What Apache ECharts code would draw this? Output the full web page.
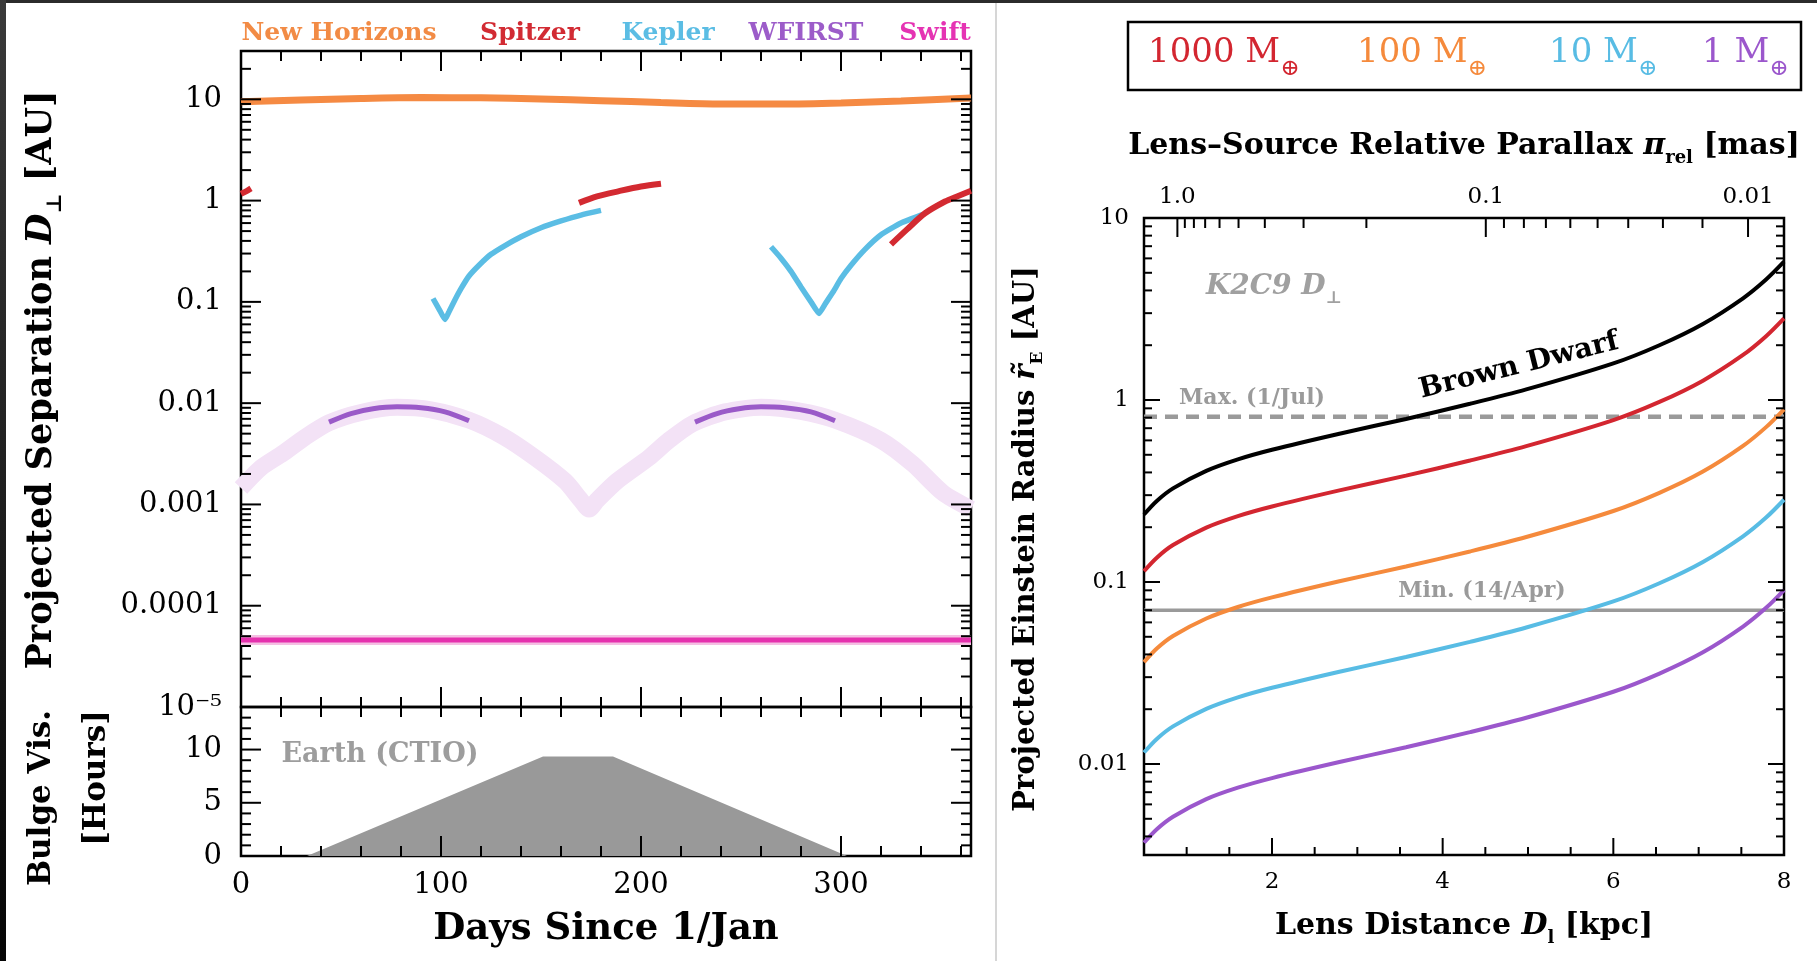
<!DOCTYPE html>
<html>
<head>
<meta charset="utf-8">
<title>K2C9 projected separation and Einstein radius</title>
<script src="https://cdn.jsdelivr.net/npm/echarts@6/dist/echarts.min.js"></script>
<style>
  html, body { margin: 0; padding: 0; background: #fff; }
  #chart { width: 1817px; height: 961px; }
</style>
</head>
<body>
<div id="chart"></div>
<script>
// ---- left panel: projected separation [AU] vs. day of year ----
var newHorizons = [[0,9.45],[30,9.85],[60,10.2],[90,10.4],[120,10.35],[150,10.1],[180,9.7],[210,9.3],[240,9.0],[270,8.98],[300,9.2],[330,9.65],[365,10.3]];
var spitzerA = [[0,1.17],[3,1.25],[5,1.32]];
var spitzerB = [[169,0.95],[178,1.1],[189,1.24],[200,1.38],[210,1.47]];
var spitzerC = [[325,0.37],[333,0.52],[342,0.75],[352,0.98],[358,1.1],[365,1.25]];
var keplerA = [[96,0.108],[99,0.085],[102,0.067],[104,0.08],[107,0.105],[110,0.135],[114,0.18],[119,0.23],[125,0.295],[132,0.36],[140,0.44],[150,0.54],[160,0.63],[170,0.72],[180,0.80]];
var keplerB = [[265,0.35],[270,0.27],[275,0.2],[280,0.14],[285,0.1],[289,0.077],[292,0.095],[296,0.125],[300,0.17],[305,0.23],[312,0.33],[320,0.46],[330,0.6],[341,0.73]];
var wfirstBand = [[0,0.00145],[10,0.0023],[21,0.0032],[32,0.0046],[44,0.0064],[60,0.0081],[78,0.0091],[95,0.0086],[114,0.0068],[131,0.0047],[147,0.0029],[162,0.0017],[170,0.0011],[174,0.0009],[178,0.0011],[188,0.0017],[204,0.0029],[214,0.0043],[226,0.0063],[242,0.0082],[260,0.0091],[280,0.0083],[297,0.0068],[320,0.0043],[336,0.0025],[351,0.0013],[365,0.0009]];
var wfirstA = [[44,0.0065],[55,0.0079],[66,0.0088],[78,0.0092],[90,0.009],[102,0.0082],[114,0.0067]];
var wfirstB = [[227,0.0065],[238,0.0079],[249,0.0088],[260,0.0092],[272,0.009],[285,0.0082],[297,0.0067]];
var swift = [[0,4.6e-5],[365,4.6e-5]];
// bulge visibility from Earth (CTIO), hours per night
var earthVis = [[0,0],[33,0],[151,9.35],[186,9.35],[303,0],[365,0]];

// ---- right panel: projected Einstein radius [AU] vs. lens distance [kpc] ----
var lensDist = [0.5,0.65,0.84,1.23,1.6,2.0,2.79,3.57,4.32,4.98,6.0,6.54,7.05,7.52,7.79,8.0];
var rBrownDwarf = [0.235,0.279,0.327,0.408,0.472,0.533,0.653,0.787,0.953,1.143,1.589,2.0,2.618,3.622,4.592,5.754];
var r1000 = [0.1147,0.136,0.1596,0.1991,0.2303,0.2601,0.3187,0.3841,0.4651,0.5578,0.7754,0.976,1.2776,1.7675,2.2409,2.808];
var r100 = [0.0363,0.0431,0.0505,0.063,0.0729,0.0823,0.1009,0.1216,0.1472,0.1766,0.2455,0.309,0.4045,0.5596,0.7095,0.889];
var r10 = [0.01156,0.01373,0.01609,0.02007,0.02322,0.02622,0.03213,0.03872,0.04689,0.05624,0.07818,0.0984,0.1288,0.1782,0.2259,0.2831];
var r1 = [0.00369,0.00438,0.00513,0.00641,0.00741,0.00837,0.01025,0.01236,0.01496,0.01795,0.02495,0.0314,0.0411,0.0569,0.0721,0.0903];
var maxPerp = 0.81;   // Max. (1/Jul)
var minPerp = 0.07;   // Min. (14/Apr)

// ---- ticks and tick labels ----
var dayMajor = [100, 200, 300];
var dayMinor = [20,40,60,80,120,140,160,180,220,240,260,280,320,340,360];
var dayLabels = [0, 100, 200, 300];
var sepMajor = [1e-5, 1e-4, 1e-3, 0.01, 0.1, 1, 10];
var sepLabels = ['10⁻⁵', '0.0001', '0.001', '0.01', '0.1', '1', '10'];
var hourMajor = [0, 5, 10];
var hourMinor = [1,2,3,4,6,7,8,9,11,12,13,14];
var kpcMajor = [2, 4, 6, 8];
var kpcMinor = [1,1.5,2.5,3,3.5,4.5,5,5.5,6.5,7,7.5];
var radiusMajor = [0.01, 0.1, 1, 10];
var radiusLabels = ['0.01', '0.1', '1', '10'];
var parallaxMajor = [1.0, 0.1, 0.01];
var parallaxLabels = ['1.0', '0.1', '0.01'];
var parallaxMinor = [0.9,0.8,0.7,0.6,0.5,0.4,0.3,0.2,0.09,0.08,0.07,0.06,0.05,0.04,0.03,0.02];
var sourceDist = 8.2; // kpc, for the top (relative parallax) axis

var SEP_MIN = 1e-5, SEP_MAX = 30, R_MIN = 0.0031623, R_MAX = 10;
var SERIF = '"DejaVu Serif", "Liberation Serif", serif';

function logMinors(lo, hi) {
  var out = [];
  for (var e = -6; e <= 2; e++) {
    for (var k = 2; k <= 9; k++) {
      var v = k * Math.pow(10, e);
      if (v > lo && v < hi) out.push(v);
    }
  }
  return out;
}
function parallaxToDist(p) { return 1 / (p + 1 / sourceDist); }

function addY(arr, vals, x0, x1, len) {
  vals.forEach(function (v) {
    arr.push({x: x0, y: v, dx: 1, dy: 0, len: len});
    arr.push({x: x1, y: v, dx: -1, dy: 0, len: len});
  });
}
function addX(arr, vals, y0, y1, lenBottom, lenTop) {
  vals.forEach(function (v) {
    if (lenBottom) arr.push({x: v, y: y0, dx: 0, dy: -1, len: lenBottom});
    if (lenTop) arr.push({x: v, y: y1, dx: 0, dy: 1, len: lenTop});
  });
}
function addLabel(arr, x, y, text, tx, ty, align, size) {
  arr.push({x: x, y: y, text: text, tx: tx, ty: ty, align: align, font: size + 'px ' + SERIF});
}

// grid 0: separation
var g0 = [];
addY(g0, sepMajor, 0, 365, 20);
addY(g0, logMinors(SEP_MIN, SEP_MAX), 0, 365, 10);
addX(g0, dayMajor, SEP_MIN, SEP_MAX, 20, 20);
addX(g0, dayMinor, SEP_MIN, SEP_MAX, 10, 10);
sepMajor.forEach(function (v, i) { addLabel(g0, 0, v, sepLabels[i], -19, 0, 'right', 29); });

// grid 1: bulge visibility
var g1 = [];
addY(g1, hourMajor, 0, 365, 20);
addY(g1, hourMinor, 0, 365, 10);
addX(g1, dayMajor, 0, 14, 20, 10);
addX(g1, dayMinor, 0, 14, 10, 10);
hourMajor.forEach(function (v) { addLabel(g1, 0, v, String(v), -19, 0, 'right', 29); });
dayLabels.forEach(function (v) { addLabel(g1, v, 0, String(v), 0, 29, 'center', 29); });

// grid 2: Einstein radius
var g2 = [];
addY(g2, radiusMajor, 0.5, 8, 16);
addY(g2, logMinors(R_MIN, R_MAX), 0.5, 8, 8);
addX(g2, kpcMajor, R_MIN, R_MAX, 17, 0);
addX(g2, kpcMinor, R_MIN, R_MAX, 8, 0);
parallaxMajor.forEach(function (p, i) {
  g2.push({x: parallaxToDist(p), y: R_MAX, dx: 0, dy: 1, len: 19});
  addLabel(g2, parallaxToDist(p), R_MAX, parallaxLabels[i], 0, -21, 'center', 23);
});
parallaxMinor.forEach(function (p) { g2.push({x: parallaxToDist(p), y: R_MAX, dx: 0, dy: 1, len: 10}); });
radiusMajor.forEach(function (v, i) { addLabel(g2, 0.5, v, radiusLabels[i], -15, 0, 'right', 23); });
kpcMajor.forEach(function (v) { addLabel(g2, v, R_MIN, String(v), 0, 27, 'center', 23); });

function frameSeries(idx, marks) {
  return {
    type: 'custom', xAxisIndex: idx, yAxisIndex: idx, clip: false, silent: true, z: 5,
    data: marks.map(function (m) { return [m.x, m.y]; }),
    renderItem: function (params, api) {
      var m = marks[params.dataIndex];
      var p = api.coord([api.value(0), api.value(1)]);
      if (m.text != null) {
        return {type: 'text', x: p[0] + m.tx, y: p[1] + m.ty,
          style: {text: m.text, font: m.font, fill: '#000', align: m.align, verticalAlign: 'middle'}};
      }
      return {type: 'line', shape: {x1: p[0], y1: p[1], x2: p[0] + m.dx * m.len, y2: p[1] + m.dy * m.len},
        style: {stroke: '#000', lineWidth: 2}};
    }
  };
}

function curve(idx, data, color, width, extra) {
  var s = {type: 'line', xAxisIndex: idx, yAxisIndex: idx, data: data, symbol: 'none', smooth: 0.3,
    lineStyle: {color: color, width: width}, silent: true};
  if (extra) for (var k in extra) s[k] = extra[k];
  return s;
}
function zipDist(vals) { return lensDist.map(function (d, i) { return [d, vals[i]]; }); }

function sub(text, x, y, color, size, rot, italic) {
  return {type: 'text', x: x, y: y, rotation: rot || 0, silent: true,
    style: {text: text, fill: color, font: (italic ? 'italic ' : '') + 'bold ' + size + 'px ' + SERIF,
      align: 'center', verticalAlign: 'middle'}};
}
function richTitle(parts, x, y, size, rot, color) {
  // parts: [normal, italicSymbol, subscript, trailing]
  var c = color || '#000';
  return {type: 'text', x: x, y: y, rotation: rot || 0, silent: true,
    style: {
      text: '{t|' + parts[0] + '}{i|' + parts[1] + '}{s|' + parts[2] + '}{t|' + parts[3] + '}',
      align: 'center', verticalAlign: 'middle',
      rich: {
        t: {fontSize: size, fontFamily: SERIF, fontWeight: 'bold', fill: c, lineHeight: size * 1.4},
        i: {fontSize: size, fontFamily: SERIF, fontWeight: 'bold', fontStyle: 'italic', fill: c, lineHeight: size * 1.4},
        s: {fontSize: Math.round(size * 0.6), fontFamily: SERIF, fontWeight: 'bold', fill: c, lineHeight: size * 0.45, verticalAlign: 'bottom'}
      }
    }};
}
function massLabel(txt, x, color) {
  return {type: 'text', x: x, y: 53, silent: true,
    style: {text: '{n|' + txt + ' M}{s|⊕}', align: 'left', verticalAlign: 'middle',
      rich: {
        n: {fontSize: 34, fontFamily: SERIF, fill: color, lineHeight: 56},
        s: {fontSize: 23, fontFamily: SERIF, fill: color, lineHeight: 22, verticalAlign: 'bottom'}
      }}};
}

var option = {
  animation: false,
  backgroundColor: '#ffffff',
  grid: [
    {left: 241, top: 51, width: 730, height: 656, show: true, borderColor: '#000', borderWidth: 2.5, backgroundColor: 'transparent'},
    {left: 241, top: 707, width: 730, height: 149, show: true, borderColor: '#000', borderWidth: 2.5, backgroundColor: 'transparent'},
    {left: 1144, top: 218, width: 640, height: 637, show: true, borderColor: '#000', borderWidth: 2.5, backgroundColor: 'transparent'}
  ],
  xAxis: [
    {gridIndex: 0, type: 'value', min: 0, max: 365, show: false},
    {gridIndex: 1, type: 'value', min: 0, max: 365, show: false},
    {gridIndex: 2, type: 'value', min: 0.5, max: 8, show: false}
  ],
  yAxis: [
    {gridIndex: 0, type: 'log', min: SEP_MIN, max: SEP_MAX, show: false},
    {gridIndex: 1, type: 'value', min: 0, max: 14, show: false},
    {gridIndex: 2, type: 'log', min: R_MIN, max: R_MAX, show: false}
  ],
  series: [
    curve(0, wfirstBand, '#F3E2F6', 17, {smooth: 0.25}),
    curve(0, swift, '#F5BFE3', 10),
    curve(0, swift, '#E531AE', 5),
    curve(0, newHorizons, '#F58A43', 7),
    curve(0, keplerA, '#5BBDE4', 5.5, {smooth: 0.15}),
    curve(0, keplerB, '#5BBDE4', 5.5, {smooth: 0.15}),
    curve(0, spitzerA, '#D32A31', 6),
    curve(0, spitzerB, '#D32A31', 6),
    curve(0, spitzerC, '#D32A31', 6),
    curve(0, wfirstA, '#9A5AC8', 5),
    curve(0, wfirstB, '#9A5AC8', 5),
    curve(1, earthVis, '#9a9a9a', 0, {smooth: false, areaStyle: {color: '#999999', opacity: 1}}),
    curve(2, [[0.5, minPerp], [8, minPerp]], '#9a9a9a', 3.5, {smooth: false}),
    curve(2, [[0.5, maxPerp], [8, maxPerp]], '#9a9a9a', 4.5, {smooth: false,
      lineStyle: {color: '#9a9a9a', width: 4.5, type: [13, 8]}}),
    curve(2, zipDist(r1), '#9B57CC', 4),
    curve(2, zipDist(r10), '#58BCE4', 4),
    curve(2, zipDist(r100), '#F58A3C', 4),
    curve(2, zipDist(r1000), '#D32630', 4),
    curve(2, zipDist(rBrownDwarf), '#000000', 4),
    frameSeries(0, g0),
    frameSeries(1, g1),
    frameSeries(2, g2)
  ],
  graphic: {elements: [
    {type: 'rect', shape: {x: 0, y: 0, width: 1817, height: 3}, style: {fill: '#2b2b2b'}, silent: true},
    {type: 'rect', shape: {x: 0, y: 0, width: 6, height: 961}, silent: true,
      style: {fill: new echarts.graphic.LinearGradient(0, 0, 0, 1, [{offset: 0, color: '#3a3a3a'}, {offset: 1, color: '#050505'}])}},
    {type: 'line', shape: {x1: 996, y1: 3, x2: 996, y2: 961}, style: {stroke: '#c8c8c8', lineWidth: 1.5}, silent: true},

    // left legend
    sub('New Horizons', 339, 33, '#F28B45', 25),
    sub('Spitzer', 530, 33, '#D22B33', 25),
    sub('Kepler', 668, 33, '#5BBDE4', 25),
    sub('WFIRST', 806, 33, '#9C5CC9', 25),
    sub('Swift', 935, 33, '#E533B3', 25),
    sub('Earth (CTIO)', 380, 755, '#9d9d9d', 27),

    // left axis titles
    richTitle(['Projected Separation ', 'D', '⊥', ' [AU]'], 42, 380, 35, Math.PI / 2),
    sub('Bulge Vis.', 42, 798, '#000', 31, Math.PI / 2),
    sub('[Hours]', 97, 778, '#000', 31, Math.PI / 2),
    sub('Days Since 1/Jan', 606, 929, '#000', 37),

    // right legend box
    {type: 'rect', shape: {x: 1128, y: 22, width: 673, height: 68}, style: {fill: 'none', stroke: '#000', lineWidth: 2.5}, silent: true},
    massLabel('1000', 1148, '#D32630'),
    massLabel('100', 1357, '#F58A3C'),
    massLabel('10', 1549, '#58BCE4'),
    massLabel('1', 1702, '#9B57CC'),

    // right axis titles and notes
    richTitle(['Lens–Source Relative Parallax ', 'π', 'rel', ' [mas]'], 1464, 146, 30),
    richTitle(['Lens Distance ', 'D', 'l', ' [kpc]'], 1464, 926, 30),
    richTitle(['Projected Einstein Radius ', 'r̃', 'E', ' [AU]'], 1026, 539, 29, Math.PI / 2),
    {type: 'text', x: 1206, y: 287, silent: true,
      style: {text: '{t|K2C9 D}{s|⊥}', align: 'left', verticalAlign: 'middle',
        rich: {
          t: {fontSize: 28, fontFamily: SERIF, fontWeight: 'bold', fontStyle: 'italic', fill: '#a0a0a0', lineHeight: 40},
          s: {fontSize: 17, fontFamily: SERIF, fontWeight: 'bold', fill: '#a0a0a0', lineHeight: 12, verticalAlign: 'bottom'}
        }}},
    sub('Max. (1/Jul)', 1252, 398, '#9a9a9a', 22),
    sub('Min. (14/Apr)', 1482, 591, '#9a9a9a', 22),
    sub('Brown Dwarf', 1519, 366, '#000', 28, 14 * Math.PI / 180)
  ]}
};

var chart = echarts.init(document.getElementById('chart'));
chart.setOption(option);
</script>
</body>
</html>
